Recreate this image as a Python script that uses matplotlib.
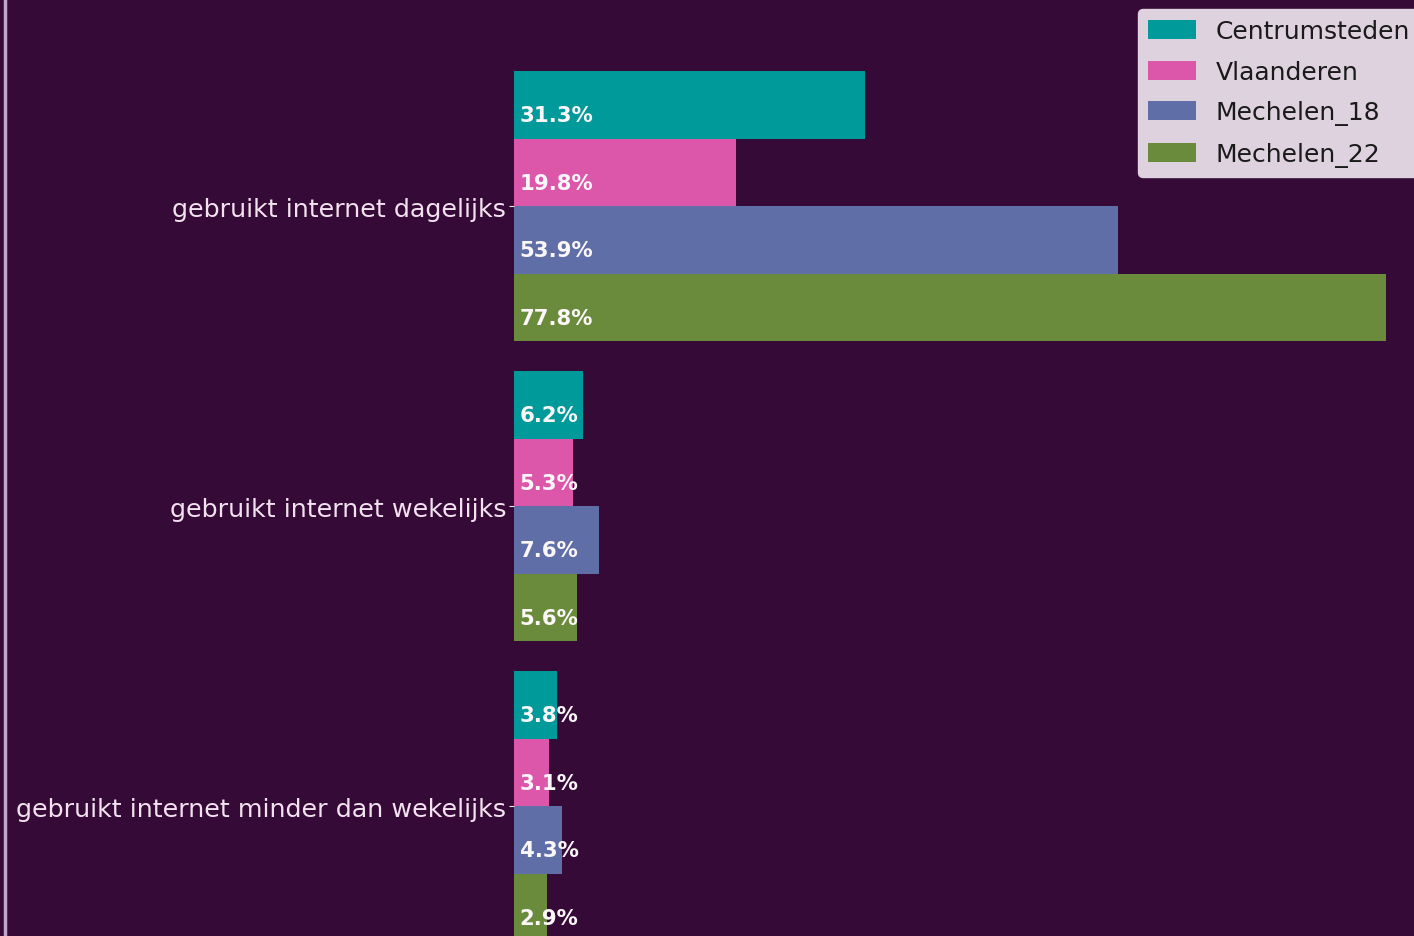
import numpy as np
import matplotlib
matplotlib.use("Agg")
import matplotlib.pyplot as plt
from matplotlib.lines import Line2D

categories = ["gebruikt internet dagelijks", "gebruikt internet wekelijks",
              "gebruikt internet minder dan wekelijks"]
series = ["Centrumsteden", "Vlaanderen", "Mechelen_18", "Mechelen_22"]
centrumsteden = [31.3, 6.2, 3.8]
vlaanderen = [19.8, 5.3, 3.1]
mechelen_18 = [53.9, 7.6, 4.3]
mechelen_22 = [77.8, 5.6, 2.9]
values = [centrumsteden, vlaanderen, mechelen_18, mechelen_22]

colors = ["#009a9a", "#dc56aa", "#5f6ea6", "#6a8a3c"]
bg = "#360a36"
txt = "#f2e2f0"

fig = plt.figure(figsize=(14.14, 9.37), dpi=100, facecolor=bg)
ax = fig.add_axes([514 / 1414, 0, 1 - 514 / 1414, 1])
ax.set_facecolor(bg)

h = 0.225
y = np.arange(len(categories))
for i, (name, vals) in enumerate(zip(series, values)):
    pos = y - 1.5 * h + i * h
    ax.barh(pos, vals, height=h, color=colors[i], label=name)
    for p, v in zip(pos, vals):
        ax.text(0.5, p + 0.035, f"{v}%", color="#fbf6f8", fontsize=15.3,
                fontweight="bold", va="center", ha="left")

ax.set_xlim(0, 80.3)
ax.set_ylim(2 + 0.433, -0.69)
ax.set_yticks(y)
ax.set_yticklabels(categories, fontsize=18.3, color=txt)
ax.tick_params(axis="y", colors=txt, length=3.5, pad=2, labelcolor=txt)
ax.set_xticks([])
for s in ax.spines.values():
    s.set_visible(False)

leg = ax.legend(loc="upper right", bbox_to_anchor=(1.0067, 0.989), fontsize=18,
                facecolor="#ddd2dd", framealpha=1, edgecolor="#ddd2dd",
                borderaxespad=0, labelspacing=0.66, handlelength=1.9,
                handleheight=0.8, handletextpad=0.8)
for t in leg.get_texts():
    t.set_color("#1a1a1a")

fig.add_artist(Line2D([5 / 1414, 5 / 1414], [0, 1], color="#c4a4cc", lw=2.5,
                      transform=fig.transFigure))

fig.savefig("out.png", dpi=100, facecolor=bg)
